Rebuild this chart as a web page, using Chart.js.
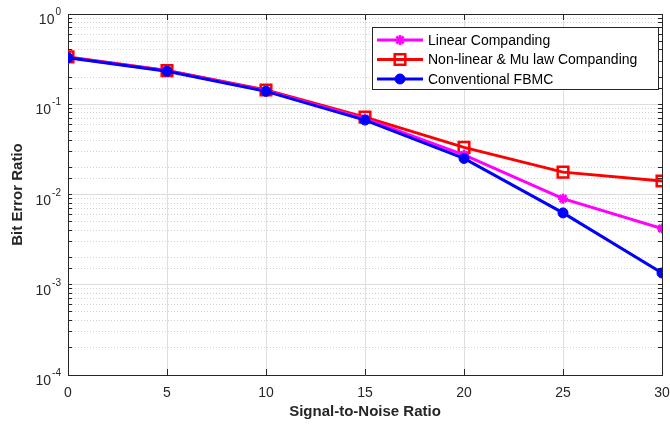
<!DOCTYPE html>
<html><head><meta charset="utf-8">
<script src="https://cdn.jsdelivr.net/npm/chart.js@4/dist/chart.umd.min.js"></script>
<style>html,body{margin:0;padding:0;background:#fff;}#wrap{width:670px;height:429px;}</style>
</head><body><div id="wrap"><canvas id="c" width="670" height="429"></canvas></div>
<script>
const snr = [0, 5, 10, 15, 20, 25, 30];
const linearCompanding = [0.330, 0.235, 0.141, 0.069, 0.0275, 0.0090, 0.0042];
const nonlinearMuLaw = [0.335, 0.236, 0.144, 0.072, 0.0333, 0.0177, 0.0141];
const conventionalFBMC = [0.328, 0.232, 0.139, 0.0668, 0.0251, 0.00625, 0.00135];
const seriesNames = ['Linear Companding', 'Non-linear & Mu law Companding', 'Conventional FBMC'];
const xTicks = [0, 5, 10, 15, 20, 25, 30];
const yDecades = [1, 0.1, 0.01, 0.001, 0.0001];
const yExponents = ['0', '-1', '-2', '-3', '-4'];

const toPts = arr => arr.map((v, i) => ({x: snr[i], y: v}));
const FONT = "'Liberation Sans', Arial, Helvetica, sans-serif";
const isMajor = v => { const l = Math.log10(v); return Math.abs(l - Math.round(l)) < 1e-9; };

const yLabelPlugin = {
  id: 'yPowLabels',
  afterDraw(chart) {
    const ctx = chart.ctx, s = chart.scales.y;
    ctx.save();
    ctx.fillStyle = '#262626';
    ctx.textBaseline = 'alphabetic';
    yDecades.forEach((v, i) => {
      const py = s.getPixelForValue(v);
      const ex = yExponents[i];
      ctx.font = '10px ' + FONT;
      const ew = ctx.measureText(ex).width;
      const right = 61;
      ctx.textAlign = 'left';
      ctx.fillText(ex, right - ew, py + 1);
      ctx.font = '14px ' + FONT;
      ctx.textAlign = 'right';
      ctx.fillText('10', right - ew - 1, py + 10);
    });
    ctx.restore();
  }
};

const legendPlugin = {
  id: 'matlabLegend',
  afterDraw(chart) {
    const ctx = chart.ctx;
    const bx = 372.5, by = 27.5, bw = 286, bh = 62;
    ctx.save();
    ctx.fillStyle = '#fff';
    ctx.fillRect(bx, by, bw, bh);
    ctx.strokeStyle = '#262626';
    ctx.lineWidth = 1;
    ctx.strokeRect(bx, by, bw, bh);
    const rows = [40, 59.5, 79];
    chart.data.datasets.forEach((ds, i) => {
      const y = rows[i];
      ctx.strokeStyle = ds.borderColor;
      ctx.lineWidth = ds.borderWidth;
      ctx.beginPath(); ctx.moveTo(377, y); ctx.lineTo(423, y); ctx.stroke();
      ctx.fillStyle = ds.pointBackgroundColor;
      ctx.lineWidth = ds.pointBorderWidth;
      ctx.beginPath();
      if (ds.pointStyle === 'circle') { ctx.arc(400, y, ds.pointRadius, 0, Math.PI * 2); ctx.fill(); ctx.stroke(); }
      else if (ds.pointStyle === 'rect') { const s = ds.pointRadius * Math.SQRT1_2; ctx.rect(400 - s, y - s, 2 * s, 2 * s); ctx.stroke(); }
      else { const r = ds.pointRadius; ctx.moveTo(400 - r, y); ctx.lineTo(400 + r, y); ctx.moveTo(400, y - r); ctx.lineTo(400, y + r);
        const d = r * Math.SQRT1_2; ctx.moveTo(400 - d, y - d); ctx.lineTo(400 + d, y + d); ctx.moveTo(400 - d, y + d); ctx.lineTo(400 + d, y - d); ctx.stroke(); }
      ctx.fillStyle = '#000';
      ctx.font = '14px ' + FONT;
      ctx.textBaseline = 'middle';
      ctx.textAlign = 'left';
      ctx.fillText(seriesNames[i], 428, y + 1);
    });
    ctx.restore();
  }
};

const bgPlugin = {
  id: 'bg',
  beforeDraw(chart) { const c = chart.ctx; c.save(); c.fillStyle = '#fff'; c.fillRect(0, 0, chart.width, chart.height); c.restore(); }
};

const noPad = s => { s.paddingLeft = 0; s.paddingRight = 0; s.paddingTop = 0; s.paddingBottom = 0; };
const gridDash = ctx => (ctx.tick && !isMajor(ctx.tick.value)) ? [1, 2] : [];

new Chart(document.getElementById('c'), {
  type: 'line',
  data: {
    datasets: [
      {label: seriesNames[0], data: toPts(linearCompanding), borderColor: '#FF00FF', backgroundColor: '#FF00FF', pointBackgroundColor: '#FF00FF', borderWidth: 3, pointStyle: 'star', pointRadius: 5, pointBorderWidth: 2.5, order: 2},
      {label: seriesNames[1], data: toPts(nonlinearMuLaw), borderColor: '#FF0000', backgroundColor: 'rgba(0,0,0,0)', pointBackgroundColor: 'rgba(0,0,0,0)', borderWidth: 3, pointStyle: 'rect', pointRadius: 7.5, pointBorderWidth: 2.5, order: 3},
      {label: seriesNames[2], data: toPts(conventionalFBMC), borderColor: '#0000FF', backgroundColor: '#0000FF', pointBackgroundColor: '#0000FF', borderWidth: 3, pointStyle: 'circle', pointRadius: 5, pointBorderWidth: 1, order: 1}
    ]
  },
  options: {
    responsive: false,
    animation: false,
    devicePixelRatio: 1,
    layout: {padding: 0, autoPadding: false},
    plugins: {legend: {display: false}, tooltip: {enabled: false}},
    elements: {line: {tension: 0}},
    scales: {
      x: {
        type: 'linear', position: 'bottom', min: 0, max: 30,
        afterBuildTicks: s => { s.ticks = xTicks.map(v => ({value: v})); },
        afterFit: s => { s.height = 54; noPad(s); },
        grid: {color: '#dedede', lineWidth: 1, tickLength: -6, tickColor: '#262626'},
        border: {display: true, color: '#262626', width: 1},
        ticks: {color: '#262626', font: {family: FONT, size: 14}, padding: 16, maxRotation: 0},
        title: {display: true, text: 'Signal-to-Noise Ratio', color: '#262626', font: {family: FONT, size: 15, weight: 'bold'}, padding: {top: 0, bottom: 8}}
      },
      x2: {
        type: 'linear', position: 'top', min: 0, max: 30,
        afterBuildTicks: s => { s.ticks = xTicks.map(v => ({value: v})); },
        afterFit: s => { s.height = 14; noPad(s); },
        grid: {drawOnChartArea: false, tickLength: -6, tickColor: '#262626'},
        border: {display: true, color: '#262626', width: 1},
        ticks: {display: false}
      },
      y: {
        type: 'logarithmic', position: 'left', min: 0.0001, max: 1,
        afterFit: s => { s.width = 68; noPad(s); },
        grid: {color: ctx => (ctx.tick && isMajor(ctx.tick.value)) ? '#dcdcdc' : '#d2d2d2', lineWidth: 1, tickLength: -4, tickColor: '#262626'},
        border: {display: true, color: '#262626', width: 1, dash: gridDash},
        ticks: {color: '#262626', font: {family: FONT, size: 14}, padding: 10, autoSkip: false, callback: () => ''},
        title: {display: true, text: 'Bit Error Ratio', color: '#262626', font: {family: FONT, size: 15, weight: 'bold'}, padding: {top: 9, bottom: 0}}
      },
      y2: {
        type: 'logarithmic', position: 'right', min: 0.0001, max: 1,
        afterFit: s => { s.width = 8; noPad(s); },
        grid: {drawOnChartArea: false, tickLength: -4, tickColor: '#262626'},
        border: {display: true, color: '#262626', width: 1},
        ticks: {display: false, autoSkip: false}
      }
    }
  },
  plugins: [bgPlugin, yLabelPlugin, legendPlugin]
});
</script>
</body></html>
